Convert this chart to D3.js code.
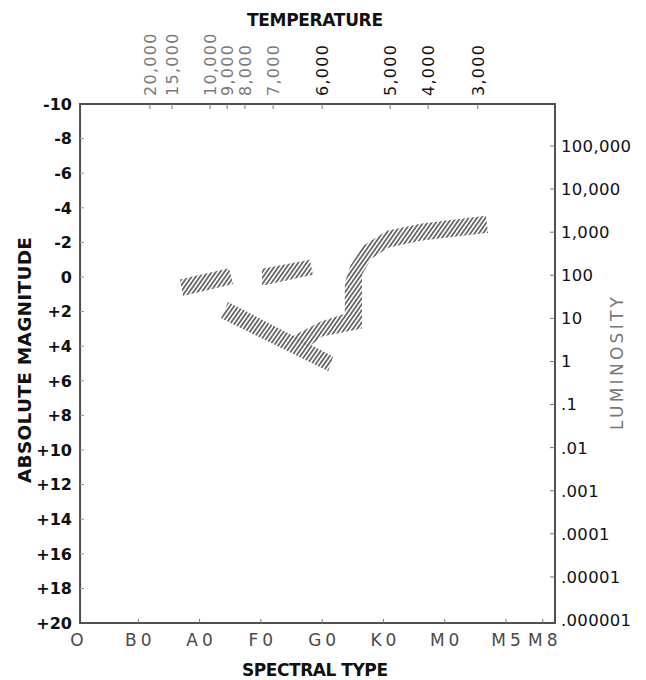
<!DOCTYPE html>
<html>
<head>
<meta charset="utf-8">
<script src="https://cdn.jsdelivr.net/npm/d3@7/dist/d3.min.js"></script>
<style>
  html, body { margin: 0; padding: 0; background: #fff; }
  svg { display: block; }
</style>
</head>
<body>
<script>
// Spectral classes along the bottom axis (position in class units)
const spectralTypes = ["O", "B0", "A0", "F0", "G0", "K0", "M0", "M5", "M8"];
const spectralPos = [0, 1, 2, 3, 4, 5, 6, 7, 7.6];

// Absolute magnitude ticks (left axis)
const magTicks = [-10, -8, -6, -4, -2, 0, 2, 4, 6, 8, 10, 12, 14, 16, 18, 20];

// Luminosity ticks (right axis), in solar units
const lumTicks = [1e5, 1e4, 1e3, 100, 10, 1, 0.1, 0.01, 0.001, 1e-4, 1e-5, 1e-6];
const lumLabels = ["100,000", "10,000", "1,000", "100", "10", "1", ".1", ".01", ".001", ".0001", ".00001", ".000001"];

// Surface temperature (top axis) and the spectral position of each value
const tempLabels = ["20,000", "15,000", "10,000", "9,000", "8,000", "7,000", "6,000", "5,000", "4,000", "3,000"];
const tempPos = [1.19, 1.55, 2.17, 2.45, 2.74, 3.20, 4.00, 5.11, 5.73, 6.54];

// Star groups: outlines as [spectral position, absolute magnitude]
const giantsA = [[1.68, 0.15], [2.48, -0.5], [2.55, 0.4], [1.73, 1.1]];
const giantsF = [[3.02, -0.48], [3.80, -1.0], [3.85, -0.13], [3.02, 0.50]];
const mainSequence = [[2.465, 1.45], [4.18, 4.6], [4.10, 5.45], [2.35, 2.38]];
const giantBranch = [
  [3.51, 3.44], [3.97, 2.58], [4.37, 2.12], [4.37, 0.33], [4.46, -0.65],
  [4.67, -1.81], [5.06, -2.67], [5.60, -3.08], [6.67, -3.54],
  [6.71, -2.56], [5.60, -2.10], [5.08, -1.69], [4.80, -1.06],
  [4.65, -0.13], [4.65, 2.98], [4.00, 3.44], [3.77, 4.08]
];
const groups = [giantsA, giantsF, mainSequence, giantBranch];

const W = 646, H = 680;
const svg = d3.select("body").append("svg").attr("width", W).attr("height", H);

const x = d3.scaleLinear().domain([0, 7.8]).range([77, 555]);
const y = d3.scaleLinear().domain([-10, 20]).range([104, 623]);
const yLum = d3.scaleLog().domain([1e-6, 1e5]).range([620, 146]);

const frameL = x(0.05), frameR = x(7.8), frameT = y(-10), frameB = y(20);

// diagonal hatching used for the star groups
const defs = svg.append("defs");
const pat = defs.append("pattern")
  .attr("id", "hatch")
  .attr("patternUnits", "userSpaceOnUse")
  .attr("width", 3.45).attr("height", 10)
  .attr("patternTransform", "rotate(35)");
pat.append("line")
  .attr("x1", 1.7).attr("x2", 1.7).attr("y1", -1).attr("y2", 11)
  .attr("stroke", "#666").attr("stroke-width", 1.8);

const line = d3.line().x(d => x(d[0])).y(d => y(d[1]));
svg.append("g").selectAll("path").data(groups).join("path")
  .attr("d", d => line(d) + "Z")
  .attr("fill", "url(#hatch)");

// plot frame
svg.append("rect")
  .attr("x", frameL).attr("y", frameT)
  .attr("width", frameR - frameL).attr("height", frameB - frameT)
  .attr("fill", "none").attr("stroke", "#505050").attr("stroke-width", 2);

const font = "'DejaVu Sans', sans-serif";

// left axis: absolute magnitude
const gl = svg.append("g");
gl.selectAll("line").data(magTicks.slice(1, -1)).join("line")
  .attr("x1", frameL).attr("x2", frameL + 4)
  .attr("y1", d => y(d)).attr("y2", d => y(d))
  .attr("stroke", "#999").attr("stroke-width", 1);
gl.selectAll("text").data(magTicks).join("text")
  .attr("x", 72).attr("y", d => y(d))
  .attr("dy", "0.36em")
  .attr("text-anchor", "end")
  .attr("font-family", font).attr("font-weight", "bold").attr("font-size", 16)
  .attr("fill", "#111")
  .text(d => d > 0 ? "+" + d : String(d));

// right axis: luminosity
const gr = svg.append("g");
gr.selectAll("line").data(lumTicks.slice(0, -1)).join("line")
  .attr("x1", frameR - 5).attr("x2", frameR)
  .attr("y1", d => yLum(d)).attr("y2", d => yLum(d))
  .attr("stroke", "#777").attr("stroke-width", 1);
gr.selectAll("text").data(lumTicks).join("text")
  .attr("x", 561).attr("y", d => yLum(d))
  .attr("dy", "0.36em")
  .attr("font-family", font).attr("font-size", 16.5)
  .attr("letter-spacing", 0.3)
  .attr("fill", "#111")
  .text((d, i) => lumLabels[i]);

// bottom axis: spectral type
const gb = svg.append("g");
gb.selectAll("line").data(spectralPos.slice(1)).join("line")
  .attr("x1", d => x(d)).attr("x2", d => x(d))
  .attr("y1", frameB).attr("y2", frameB - 4)
  .attr("stroke", "#777").attr("stroke-width", 1);
gb.selectAll("text").data(spectralTypes).join("text")
  .attr("x", (d, i) => x(spectralPos[i]) + 2).attr("y", 646)
  .attr("text-anchor", "middle")
  .attr("font-family", font).attr("font-size", 17)
  .attr("letter-spacing", 4)
  .attr("fill", "#4a4a4a")
  .text(d => d);

// top axis: temperature
const gt = svg.append("g");
gt.selectAll("line").data(tempPos).join("line")
  .attr("x1", d => x(d)).attr("x2", d => x(d))
  .attr("y1", frameT).attr("y2", frameT + 5)
  .attr("stroke", "#777").attr("stroke-width", 1);
gt.selectAll("text").data(tempLabels).join("text")
  .attr("transform", (d, i) => `translate(${x(tempPos[i]) + 6},96) rotate(-90)`)
  .attr("font-family", font).attr("font-size", 16)
  .attr("letter-spacing", 1.3)
  .attr("fill", (d, i) => i < 6 ? "#7a7a7a" : "#111")
  .text(d => d);

// axis titles
const title = (txt, len, size) => svg.append("text")
  .attr("font-family", font).attr("font-weight", "bold").attr("font-size", size)
  .attr("textLength", len).attr("lengthAdjust", "spacing")
  .attr("fill", "#111").text(txt);

title("TEMPERATURE", 136, 17).attr("x", 247).attr("y", 26);
title("SPECTRAL TYPE", 146, 17).attr("x", 242).attr("y", 676);
title("ABSOLUTE MAGNITUDE", 246, 18.5)
  .attr("transform", "translate(31,483) rotate(-90)");
svg.append("text")
  .attr("transform", "translate(623,430) rotate(-90)")
  .attr("font-family", font).attr("font-size", 17)
  .attr("textLength", 133).attr("lengthAdjust", "spacing")
  .attr("fill", "#777").text("LUMINOSITY");
</script>
</body>
</html>
